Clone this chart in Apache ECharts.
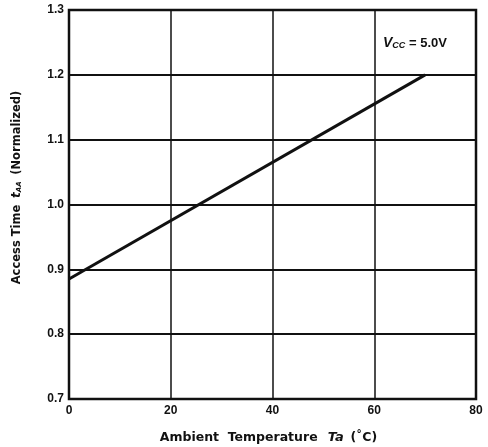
<!DOCTYPE html>
<html>
<head>
<meta charset="utf-8">
<style>
  html, body { margin: 0; padding: 0; background: #fff; }
  #chart { width: 488px; height: 447px; }
</style>
<script src="https://cdn.jsdelivr.net/npm/echarts@6/dist/echarts.min.js"></script>
</head>
<body>
<div id="chart"></div>
<script>
// Access time vs. ambient temperature (normalized), Vcc = 5.0 V
const temperature = [0, 70];          // °C
const accessTime = [0.885, 1.2];      // normalized tAA
const xTicks = [0, 20, 40, 60, 80];
const yTicks = [0.7, 0.8, 0.9, 1.0, 1.1, 1.2, 1.3];

const chart = echarts.init(document.getElementById('chart'));
const labelFont = { color: '#111', fontFamily: 'Liberation Sans', fontWeight: 'bold', fontSize: 12 };
const nameFont = { color: '#111', fontFamily: 'DejaVu Sans', fontWeight: 'bold', fontSize: 11.5 };
const xNameFont = Object.assign({}, nameFont, { fontSize: 12.5 });

chart.setOption({
  animation: false,
  backgroundColor: '#fff',
  grid: {
    left: 69, right: 12, top: 10, bottom: 48,
    outerBoundsMode: 'none',
    show: true, borderColor: '#111', borderWidth: 2.5
  },
  xAxis: {
    type: 'value',
    min: xTicks[0], max: xTicks[xTicks.length - 1], interval: 20,
    axisLine: { show: false },
    axisTick: { show: false },
    axisLabel: Object.assign({ margin: 6, formatter: v => String(v) }, labelFont),
    splitLine: { show: true, lineStyle: { color: '#111', width: 1.5 } },
    name: '{b|Ambient  Temperature}   {i|Ta}  {b|(˚C)}',
    nameLocation: 'middle',
    nameGap: 32,
    nameTextStyle: {
      padding: [0, 8, 0, 0],
      rich: {
        b: xNameFont,
        i: Object.assign({}, xNameFont, { fontStyle: 'italic', fontSize: 13 })
      }
    }
  },
  yAxis: {
    type: 'value',
    min: yTicks[0], max: yTicks[yTicks.length - 1], interval: 0.1,
    axisLine: { show: false },
    axisTick: { show: false },
    axisLabel: Object.assign({ margin: 5, formatter: v => v.toFixed(1) }, labelFont),
    splitLine: { show: true, lineStyle: { color: '#111', width: 2 } },
    name: '{b|Access Time}  {i|t}{s|AA}  {b|(Normalized)}',
    nameLocation: 'middle',
    nameGap: 46,
    nameTextStyle: {
      padding: [0, 0, 0, 34],
      rich: {
        b: nameFont,
        i: Object.assign({}, nameFont, { fontStyle: 'italic', fontSize: 12 }),
        s: Object.assign({}, nameFont, { fontStyle: 'italic', fontSize: 7, verticalAlign: 'bottom', padding: [5, 0, 0, 0] })
      }
    }
  },
  graphic: [{
    type: 'text',
    left: 383, top: 36,
    style: {
      text: '{v|V}{s|CC}{e| = 5.0V}',
      rich: {
        v: { fontFamily: 'Liberation Sans', fontStyle: 'italic', fontWeight: 'bold', fontSize: 14, fill: '#111' },
        s: { fontFamily: 'Liberation Sans', fontStyle: 'italic', fontWeight: 'bold', fontSize: 9, fill: '#111', padding: [6, 0, 0, 0] },
        e: { fontFamily: 'Liberation Sans', fontWeight: 'bold', fontSize: 13, fill: '#111' }
      }
    }
  }],
  series: [{
    type: 'line',
    data: temperature.map((t, i) => [t, accessTime[i]]),
    symbol: 'none',
    lineStyle: { color: '#111', width: 3 }
  }]
});
</script>
</body>
</html>
